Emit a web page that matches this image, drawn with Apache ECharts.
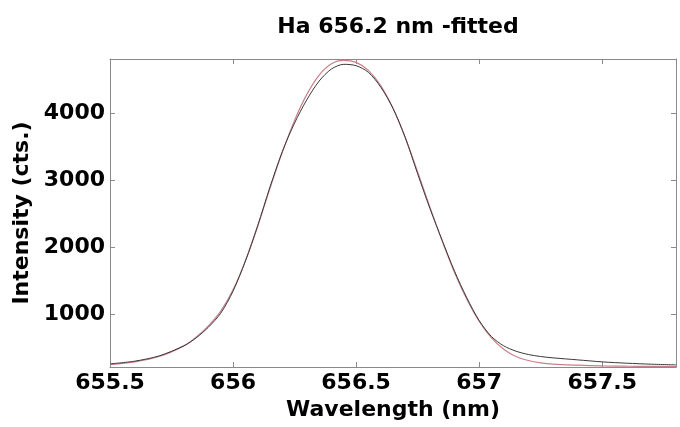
<!DOCTYPE html>
<html>
<head>
<meta charset="utf-8">
<script src="https://cdn.jsdelivr.net/npm/echarts@6/dist/echarts.min.js"></script>
<style>html,body{margin:0;padding:0;background:#fff}#c{width:680px;height:427px}</style>
</head>
<body>
<div id="c"></div>
<script>
// Wavelength (nm) sample positions
var wavelength = [655.50,655.60,655.70,655.80,655.85,655.90,655.95,656.00,656.05,656.10,656.15,656.20,656.25,656.30,656.35,656.40,656.45,656.50,656.55,656.60,656.65,656.70,656.75,656.80,656.85,656.90,656.95,657.00,657.05,657.10,657.15,657.20,657.25,657.30,657.40,657.50,657.60,657.70,657.80];
// measured intensity (black)
var measured = [250,290,370,520,640,800,1010,1340,1790,2320,2900,3430,3860,4210,4490,4670,4740,4720,4620,4400,4080,3640,3100,2580,2100,1640,1240,900,660,520,440,390,360,340,310,280,260,245,235];
// fitted intensity (red)
var fitted = [240,280,360,520,650,820,1040,1360,1790,2310,2880,3420,3900,4290,4580,4750,4800,4770,4650,4420,4080,3640,3130,2600,2090,1620,1220,890,640,470,360,300,265,245,230,220,215,212,210];
var xTicks = [655.5,656,656.5,657,657.5];
var yTicks = [1000,2000,3000,4000];
var titleText = 'Ha 656.2 nm -fitted';
var xName = 'Wavelength (nm)';
var yName = 'Intensity (cts.)';

function pairs(xs, ys){ return xs.map(function(x,i){ return [x, ys[i]]; }); }

var FONT = 'DejaVu Sans';
var axisGray = '#8a8a8a';
var chart = echarts.init(document.getElementById('c'), null, {renderer:'canvas'});
var baseX = {type:'value', min:655.5, max:657.8, splitLine:{show:false},
  axisLine:{show:true, lineStyle:{color:axisGray, width:1}},
  axisTick:{show:true, inside:true, length:5, customValues:xTicks, lineStyle:{color:axisGray}}};
var baseY = {type:'value', min:203, max:4820, splitLine:{show:false},
  axisLine:{show:true, lineStyle:{color:axisGray, width:1}},
  axisTick:{show:true, inside:true, length:5, customValues:yTicks, lineStyle:{color:axisGray}}};
chart.setOption({
  animation:false,
  backgroundColor:'#fff',
  title:{text:titleText, left:393, textAlign:'center', top:11,
    textStyle:{fontFamily:FONT, fontWeight:'bold', fontSize:22, color:'#000'}},
  grid:{left:110, right:4, top:59, bottom:60, show:false, containLabel:false, outerBoundsMode:'none'},
  xAxis:[
    Object.assign({}, baseX, {position:'bottom', name:xName, nameLocation:'middle', nameGap:24,
      nameTextStyle:{fontFamily:FONT, fontWeight:'bold', fontSize:22, color:'#000'},
      axisLabel:{show:true, customValues:xTicks, margin:5, fontFamily:FONT, fontWeight:'bold', fontSize:22, color:'#000',
        formatter:function(v){return String(v);}}}),
    Object.assign({}, baseX, {position:'top', axisLabel:{show:false}})
  ],
  yAxis:[
    Object.assign({}, baseY, {position:'left', name:yName, nameLocation:'middle', nameGap:57,
      nameTextStyle:{fontFamily:FONT, fontWeight:'bold', fontSize:22, color:'#000'},
      axisLabel:{show:true, customValues:yTicks, margin:5, fontFamily:FONT, fontWeight:'bold', fontSize:22, color:'#000',
        formatter:function(v){return String(v);}}}),
    Object.assign({}, baseY, {position:'right', axisLabel:{show:false}})
  ],
  series:[
    {type:'line', name:'fit', data:pairs(wavelength, fitted), showSymbol:false, smooth:0.3,
      lineStyle:{color:'#c9808a', width:1.2}, z:2},
    {type:'line', name:'data', data:pairs(wavelength, measured), showSymbol:false, smooth:0.3,
      lineStyle:{color:'#3a3a3a', width:1}, z:3}
  ]
});
</script>
</body>
</html>
